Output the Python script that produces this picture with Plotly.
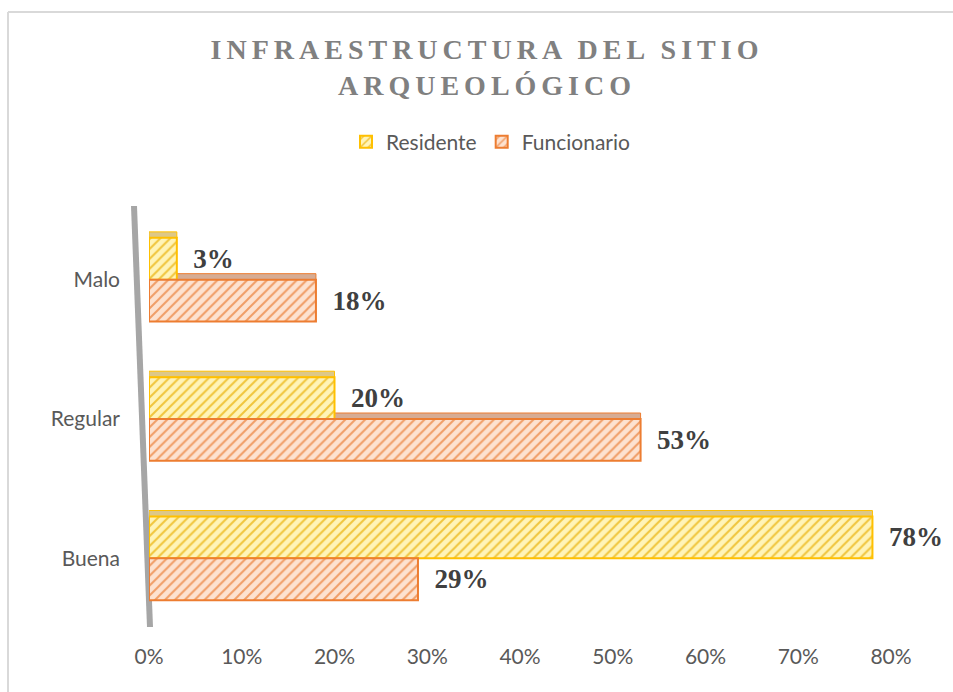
import plotly.graph_objects as go

# Survey results: rating of the archaeological site's infrastructure
categories = ["Malo", "Regular", "Buena"]
residente = [0.03, 0.20, 0.78]
funcionario = [0.18, 0.53, 0.29]
series_names = ["Residente", "Funcionario"]
x_ticks = [0, 0.1, 0.2, 0.3, 0.4, 0.5, 0.6, 0.7, 0.8]

# Plot-area geometry in pixels (used for decorative shapes)
W_PX, H_PX = 953, 692
L, R, T, B = 149, 62, 210, 64
PW, PH = W_PX - L - R, H_PX - T - B
X_MAX = 0.8
BARGAP = 0.4
N_SERIES = 2


def px_x(p):
    return (p - L) / PW


def px_y(p):
    return 1 - (p - T) / PH


# pixel -> data-unit conversion for the 3-D top faces
DEPTH_PX = 6
dy_cat = DEPTH_PX * len(categories) / PH

label_font = dict(family="Liberation Serif", size=27, color="#404040",
                  weight="bold")
tick_font = dict(family="Lato", size=21, color="#595959")

styles = [
    dict(line="#FFC000", fg="#F0C53C", bg="#FFF4B8", top="#DDC888"),
    dict(line="#ED7D31", fg="#F09D66", bg="#FDE2D0", top="#D6AC94"),
]

fig = go.Figure()
for name, vals, st in zip(series_names, [residente, funcionario], styles):
    fig.add_trace(go.Bar(
        name=name, y=categories, x=vals, orientation="h",
        texttemplate="\u00a0\u00a0<b>%{x:.0%}</b>", textposition="outside",
        textfont=label_font, cliponaxis=False,
        marker=dict(
            color=st["bg"],
            line=dict(color=st["line"], width=2),
            pattern=dict(shape="/", fgcolor=st["fg"], bgcolor=st["bg"],
                         size=7, solidity=0.28, fillmode="replace"),
        ),
    ))

border = dict(color="#D9D9D9", width=2)
shapes = [
    # chart-area border (top and left edges fall inside the page)
    dict(type="line", xref="paper", yref="paper",
         x0=px_x(8), y0=px_y(12), x1=px_x(W_PX), y1=px_y(12),
         line=border, layer="below"),
    dict(type="line", xref="paper", yref="paper",
         x0=px_x(8), y0=px_y(12), x1=px_x(8), y1=px_y(H_PX),
         line=border, layer="below"),
    # slanted back wall of the 3-D axis
    dict(type="line", xref="paper", yref="paper",
         x0=px_x(134), y0=px_y(206), x1=px_x(150), y1=px_y(627),
         line=dict(color="#A6A6A6", width=6), layer="below"),
]

# top faces of the 3-D bars, derived from the series values
bar_w = (1 - BARGAP) / N_SERIES
for s_idx, (vals, st) in enumerate(zip([residente, funcionario], styles)):
    for c_idx, v in enumerate(vals):
        top = c_idx - (1 - BARGAP) / 2 + s_idx * bar_w
        shapes.append(dict(
            type="rect", xref="x", yref="y",
            x0=0, x1=v, y0=top - dy_cat, y1=top,
            fillcolor=st["top"], line=dict(color=st["line"], width=1),
            layer="below",
        ))

fig.update_layout(
    width=W_PX, height=H_PX,
    margin=dict(l=L, r=R, t=T, b=B),
    paper_bgcolor="white", plot_bgcolor="white",
    barmode="group", bargap=BARGAP, bargroupgap=0,
    title=dict(
        text="<b>INFRAESTRUCTURA DEL SITIO<br>ARQUEOLÓGICO</b>",
        font=dict(family="Liberation Serif", size=28, color="#808080"),
        x=487 / W_PX, xanchor="center", xref="container",
        y=1 - 59 / H_PX, yanchor="top", yref="container",
    ),
    legend=dict(
        orientation="h", x=px_x(491), xanchor="center",
        y=px_y(142), yanchor="middle",
        font=tick_font,
        itemwidth=30,
    ),
    xaxis=dict(
        range=[0, X_MAX], tickvals=x_ticks, tickformat=".0%",
        showgrid=False, zeroline=False, showline=False, ticks="",
        tickfont=tick_font, ticklabelstandoff=14,
    ),
    yaxis=dict(
        autorange="reversed", showgrid=False, zeroline=False,
        showline=False, ticks="",
        tickfont=tick_font, ticklabelstandoff=28,
    ),
    shapes=shapes,
    showlegend=True,
)

post_script = (
    "document.querySelectorAll('.gtitle').forEach(function(t){"
    "t.style.letterSpacing='5px';});"
)
fig.write_html("out.html", post_script=post_script)
